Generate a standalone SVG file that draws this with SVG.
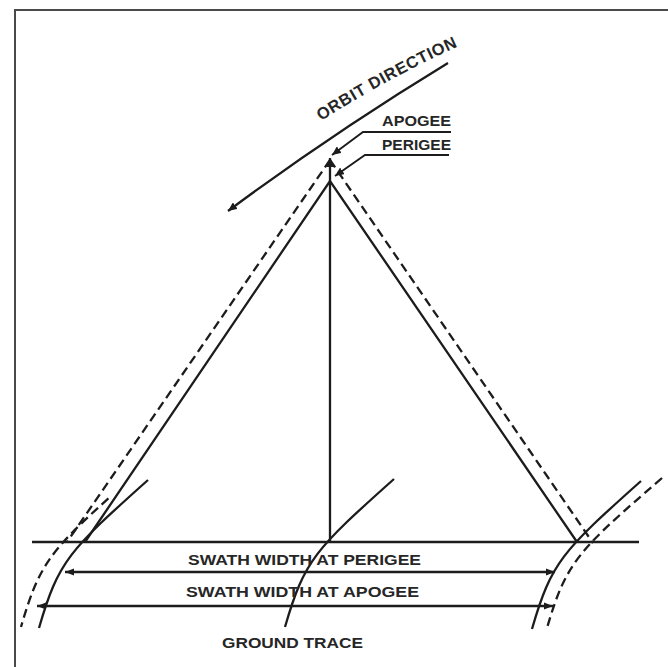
<svg xmlns="http://www.w3.org/2000/svg" width="668" height="667" viewBox="0 0 668 667">
  <style>
    .ln { fill: none; stroke: #1c1c1c; stroke-width: 2.3; stroke-linecap: butt; }
    .ds { fill: none; stroke: #1c1c1c; stroke-width: 2.3; stroke-dasharray: 9 5; }
    .ld { fill: none; stroke: #1c1c1c; stroke-width: 1.9; }
    .lbl { font-family: "Liberation Sans", Arial, sans-serif; font-weight: bold; font-size: 15.5px; fill: #262626; }
    .orb { font-size: 16.5px; }
  </style>
  <defs>
    <marker id="ah" markerUnits="userSpaceOnUse" markerWidth="10" markerHeight="8" refX="9" refY="4" orient="auto">
      <path d="M0,0 L9,4 L0,8 Z" fill="#1c1c1c"/>
    </marker>
    <marker id="ahs" markerUnits="userSpaceOnUse" markerWidth="10" markerHeight="8" refX="9" refY="4" orient="auto-start-reverse">
      <path d="M0,0.5 L9,4 L0,7.5 Z" fill="#1c1c1c"/>
    </marker>
  </defs>
  <rect x="0" y="0" width="668" height="667" fill="#ffffff"/>
  <g id="frame">
    <path d="M15,667 V10 H668" fill="none" stroke="#4a4a4a" stroke-width="2"/>
  </g>
  <g id="ground-line">
    <line class="ln" x1="32" y1="542" x2="639" y2="542"/>
  </g>
  <g id="ground-traces">
    <path class="ln" d="M394,479 C315.6,549 304.3,560 285,627"/>
    <path class="ln" d="M148,480 C69.6,550 58.3,561 39,628"/>
    <path class="ln" d="M641,481 C562.6,551 551.3,562 532,629"/>
    <path class="ds" d="M108.4,498.4 C49.3,551.8 38.4,566.7 21,627"/>
    <path class="ds" d="M662,478 C577.6,551 566.3,562 547,628"/>
  </g>
  <g id="perigee-triangle">
    <path class="ln" d="M85,542 L330,181 L577,542"/>
  </g>
  <g id="apogee-triangle">
    <path class="ds" d="M330,160 L67,542"/>
    <path class="ds" d="M330,160 L593,543"/>
  </g>
  <g id="connectors">
    <line class="ln" x1="330" y1="542" x2="330" y2="158" marker-end="url(#ah)"/>
    <path class="ln" d="M448,63 Q334.6,132 228,211" marker-end="url(#ah)"/>
    <path class="ld" d="M451,132 H363 L332,155" marker-end="url(#ah)"/>
    <path class="ld" d="M449,155 H365 L335,176" marker-end="url(#ah)"/>
    <line class="ln" x1="65" y1="572" x2="555" y2="572" marker-start="url(#ahs)" marker-end="url(#ahs)"/>
    <line class="ln" x1="37" y1="606" x2="553" y2="606" marker-start="url(#ahs)" marker-end="url(#ahs)"/>
  </g>
  <g id="labels">
    <path id="orbitpath" d="M321,121 Q391,76 470,41" fill="none"/>
    <text class="lbl orb"><textPath href="#orbitpath" textLength="156" lengthAdjust="spacing">ORBIT DIRECTION</textPath></text>
    <text class="lbl" x="382" y="126" textLength="69" lengthAdjust="spacingAndGlyphs">APOGEE</text>
    <text class="lbl" x="382" y="150" textLength="69" lengthAdjust="spacingAndGlyphs">PERIGEE</text>
    <text class="lbl" x="188" y="565" textLength="233" lengthAdjust="spacingAndGlyphs">SWATH WIDTH AT PERIGEE</text>
    <text class="lbl" x="186" y="597" textLength="233" lengthAdjust="spacingAndGlyphs">SWATH WIDTH AT APOGEE</text>
    <text class="lbl" x="222" y="648" textLength="141" lengthAdjust="spacingAndGlyphs">GROUND TRACE</text>
  </g>
</svg>
